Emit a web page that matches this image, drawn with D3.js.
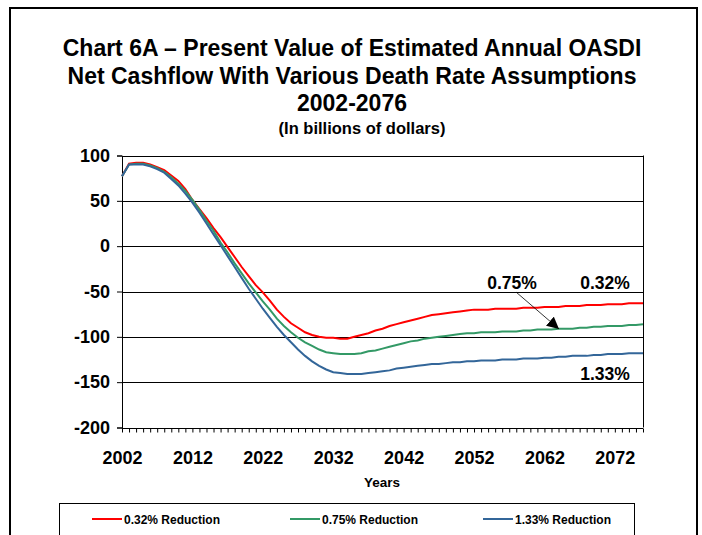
<!DOCTYPE html>
<html><head><meta charset="utf-8">
<script src="https://cdn.jsdelivr.net/npm/d3@7"></script>
<style>body{margin:0;background:#fff}svg{display:block}text{font-family:Arial,"Liberation Sans",sans-serif;font-weight:bold}</style>
</head><body><svg id="c" width="702" height="535"></svg>
<script>
const years = d3.range(2002, 2077);
const red032 = [77,91,92,92,90,87,84,78,72,63,51,41,31,20,10,-1,-12,-23,-33,-43,-51,-60,-70,-78,-85,-90,-95,-98,-100,-101,-101,-102,-102,-100,-98,-96,-93,-91,-88,-86,-84,-82,-80,-78,-76,-75,-74,-73,-72,-71,-70,-70,-70,-69,-69,-69,-69,-68,-68,-68,-67,-67,-67,-66,-66,-66,-65,-65,-65,-64,-64,-64,-63,-63,-63];
const green075 = [77,90,91,91,89,86,82,76,69,61,51,40,28,17,4,-7,-19,-30,-41,-51,-61,-70,-80,-88,-95,-101,-106,-110,-114,-117,-118,-119,-119,-119,-118,-116,-115,-113,-111,-109,-107,-105,-104,-102,-101,-100,-99,-98,-97,-96,-96,-95,-95,-95,-94,-94,-94,-93,-93,-92,-92,-92,-91,-91,-91,-90,-90,-89,-89,-88,-88,-88,-87,-87,-86];
const blue133 = [77,90,90,90,88,85,81,74,67,58,48,37,25,13,1,-11,-23,-35,-47,-58,-69,-79,-89,-98,-106,-114,-121,-127,-132,-136,-139,-140,-141,-141,-141,-140,-139,-138,-137,-135,-134,-133,-132,-131,-130,-130,-129,-128,-128,-127,-127,-126,-126,-126,-125,-125,-125,-124,-124,-124,-123,-123,-122,-122,-121,-121,-121,-120,-120,-119,-119,-119,-118,-118,-118];
const yTicks = [100,50,0,-50,-100,-150,-200];
const xTickLabels = [2002,2012,2022,2032,2042,2052,2062,2072];
const seriesNames = ["0.32% Reduction","0.75% Reduction","1.33% Reduction"];
const seriesColors = ["#ff0000","#339966","#336699"];
const seriesData = [red032, green075, blue133];
const titleLines = ["Chart 6A \u2013 Present Value of Estimated Annual OASDI","Net Cashflow With Various Death Rate Assumptions","2002-2076"];

const svg = d3.select("#c");
svg.append("rect").attr("x",10).attr("y",8).attr("width",687).attr("height",540)
  .attr("fill","none").attr("stroke","#000").attr("stroke-width",2);

const L=122,R=643,T=155.5,B=427.5;
const x = d3.scaleLinear().domain([2002,2076]).range([L,R]);
const y = d3.scaleLinear().domain([-200,100]).range([B,T]);

titleLines.forEach((t,i)=>{
  svg.append("text").attr("x",352).attr("y",56+i*27.5).attr("text-anchor","middle")
    .attr("font-size",23).text(t);
});
svg.append("text").attr("x",362).attr("y",134).attr("text-anchor","middle")
  .attr("font-size",16.5).text("(In billions of dollars)");

svg.append("g").selectAll("line").data(yTicks.filter(d=>d>-200)).join("line")
  .attr("x1",L).attr("x2",R).attr("y1",d=>Math.round(y(d))+0.5).attr("y2",d=>Math.round(y(d))+0.5)
  .attr("stroke","#000").attr("stroke-width",1);
svg.append("line").attr("x1",R+0.5).attr("x2",R+0.5).attr("y1",T).attr("y2",B).attr("stroke","#000");

const yAx = svg.append("g").attr("transform",`translate(${L},0)`)
  .call(d3.axisLeft(y).tickValues(yTicks).tickSize(5).tickFormat(d=>String(d)));
yAx.select(".domain").attr("stroke","#000");
yAx.selectAll("text").attr("font-size",18).attr("font-family","Arial, Liberation Sans, sans-serif").attr("font-weight","bold").attr("fill","#000").attr("dx",-4);

const xAx = svg.append("g").attr("transform",`translate(0,${Math.round(B)+0.5})`)
  .call(d3.axisBottom(x).tickValues(years).tickSize(4).tickFormat(d=>xTickLabels.includes(d)?String(d):""));
xAx.select(".domain").attr("stroke","#000").attr("d",`M${L},0H${R}`);
xAx.selectAll("text").attr("font-size",18).attr("font-family","Arial, Liberation Sans, sans-serif").attr("font-weight","bold").attr("fill","#000").attr("y",35).attr("dy",0);

svg.append("text").attr("x",382).attr("y",487).attr("text-anchor","middle").attr("font-size",13.5).text("Years");

const line = d3.line().x((d,i)=>x(years[i])).y(d=>y(d));
seriesData.forEach((s,k)=>{
  svg.append("path").datum(s).attr("d",line).attr("fill","none")
    .attr("stroke",seriesColors[k]).attr("stroke-width",2);
});

svg.append("defs").append("marker").attr("id","ah").attr("viewBox","0 0 10 10").attr("refX",10).attr("refY",5)
  .attr("markerWidth",12).attr("markerHeight",12).attr("markerUnits","userSpaceOnUse").attr("orient","auto")
  .append("path").attr("d","M0,0L10,5L0,10z").attr("fill","#000");
svg.append("line").attr("x1",516).attr("y1",292).attr("x2",559).attr("y2",329)
  .attr("stroke","#000").attr("stroke-width",0.8).attr("marker-end","url(#ah)");
svg.append("text").attr("x",512).attr("y",289).attr("text-anchor","middle").attr("font-size",17.5).text("0.75%");
svg.append("text").attr("x",605).attr("y",289).attr("text-anchor","middle").attr("font-size",17.5).text("0.32%");
svg.append("text").attr("x",605).attr("y",380).attr("text-anchor","middle").attr("font-size",17.5).text("1.33%");

svg.append("rect").attr("x",59.5).attr("y",503.5).attr("width",575).attr("height",40)
  .attr("fill","none").attr("stroke","#000").attr("stroke-width",1);
const lx=[92,290,483];
seriesNames.forEach((n,k)=>{
  svg.append("line").attr("x1",lx[k]).attr("x2",lx[k]+30).attr("y1",519).attr("y2",519)
    .attr("stroke",seriesColors[k]).attr("stroke-width",2);
  svg.append("text").attr("x",lx[k]+32).attr("y",523.5).attr("font-size",12).text(n);
});
</script></body></html>
